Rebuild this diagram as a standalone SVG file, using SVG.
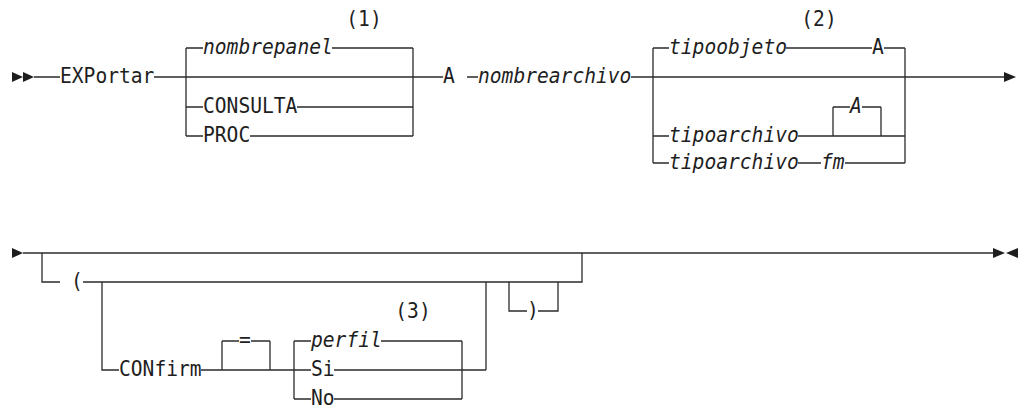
<svg xmlns="http://www.w3.org/2000/svg" width="1019" height="406" viewBox="0 0 1019 406">
<style>
.t{font-family:"DejaVu Sans Mono","Liberation Mono",monospace;font-size:22px;fill:#1e1e1e}
.i{font-style:italic}
.l{font-family:"DejaVu Sans Mono","Liberation Mono",monospace;font-size:22px;fill:#1e1e1e;text-anchor:middle}
.c{fill:none;stroke:#2b2b2b;stroke-width:1.3}
.a{fill:#1e1e1e}
</style>
<rect width="1019" height="406" fill="#fff"/>
<g id="connectors" class="c">
<path d="M34 77H60M154 77H443M467 77H478M631 77H1004"/>
<path d="M186 48V136M413 48V136M186 48H203M332 48H413M186 107H203M297 107H413M186 136H203M250 136H413"/>
<path d="M653 48V163M905 48V163M653 48H669M786 48H872M884 48H905M653 136H669M798 136H905M833 107V136M881 107V136M833 107H850M862 107H881M653 163H669M798 163H821M845 163H905"/>
<path d="M23 253H993"/>
<path d="M42 253V282H60M83 282H582V253"/>
<path d="M102 282V370H119M201 370H294M222 341V370M270 341V370M222 341H239M251 341H270"/>
<path d="M294 341V399M462 341V399M294 341H311M381 341H462M294 370H311M334 370H486M294 399H311M334 399H462M486 282V370"/>
<path d="M509 282V311H527M538 311H558V282"/>
</g>
<g id="start1"><path class="a" d="M12 72L23 77L12 82ZM23 72L34 77L23 82Z"/></g>
<g id="cont1"><path class="a" d="M1004 72L1016 77L1004 82Z"/></g>
<g id="cont2"><path class="a" d="M12 248L23 253L12 258Z"/></g>
<g id="end"><path class="a" d="M993 248L1005 253L993 258ZM1018 248L1006 253L1018 258Z"/></g>
<g id="n-exportar"><text class="t" x="60" y="83" textLength="94.4" lengthAdjust="spacingAndGlyphs">EXPortar</text></g>
<g id="n-nombrepanel"><text class="t i" x="203" y="54" textLength="129.8" lengthAdjust="spacingAndGlyphs">nombrepanel</text></g>
<g id="n-consulta"><text class="t" x="203" y="113" textLength="94.4" lengthAdjust="spacingAndGlyphs">CONSULTA</text></g>
<g id="n-proc"><text class="t" x="203" y="142" textLength="47.2" lengthAdjust="spacingAndGlyphs">PROC</text></g>
<g id="note1"><text class="l" x="364" y="26" textLength="35.4" lengthAdjust="spacingAndGlyphs">(1)</text></g>
<g id="n-a1"><text class="t" x="443" y="83" textLength="11.8" lengthAdjust="spacingAndGlyphs">A</text></g>
<g id="n-nombrearchivo"><text class="t i" x="478" y="83" textLength="153.4" lengthAdjust="spacingAndGlyphs">nombrearchivo</text></g>
<g id="note2"><text class="l" x="819" y="26" textLength="35.4" lengthAdjust="spacingAndGlyphs">(2)</text></g>
<g id="n-tipoobjeto"><text class="t i" x="669" y="54" textLength="118" lengthAdjust="spacingAndGlyphs">tipoobjeto</text></g>
<g id="n-a2"><text class="t" x="872" y="54" textLength="11.8" lengthAdjust="spacingAndGlyphs">A</text></g>
<g id="n-a3"><text class="t i" x="850" y="113" textLength="11.8" lengthAdjust="spacingAndGlyphs">A</text></g>
<g id="n-tipoarchivo1"><text class="t i" x="669" y="142" textLength="129.8" lengthAdjust="spacingAndGlyphs">tipoarchivo</text></g>
<g id="n-tipoarchivo2"><text class="t i" x="669" y="169" textLength="129.8" lengthAdjust="spacingAndGlyphs">tipoarchivo</text></g>
<g id="n-fm"><text class="t i" x="821" y="169" textLength="23.6" lengthAdjust="spacingAndGlyphs">fm</text></g>
<g id="n-lparen"><text class="t" x="71" y="288" textLength="11.8" lengthAdjust="spacingAndGlyphs">(</text></g>
<g id="n-confirm"><text class="t" x="119" y="376" textLength="82.6" lengthAdjust="spacingAndGlyphs">CONfirm</text></g>
<g id="n-eq"><text class="t" x="239" y="347" textLength="11.8" lengthAdjust="spacingAndGlyphs">=</text></g>
<g id="note3"><text class="l" x="413" y="318" textLength="35.4" lengthAdjust="spacingAndGlyphs">(3)</text></g>
<g id="n-perfil"><text class="t i" x="311" y="347" textLength="70.8" lengthAdjust="spacingAndGlyphs">perfil</text></g>
<g id="n-si"><text class="t" x="311" y="376" textLength="23.6" lengthAdjust="spacingAndGlyphs">Si</text></g>
<g id="n-no"><text class="t" x="311" y="405" textLength="23.6" lengthAdjust="spacingAndGlyphs">No</text></g>
<g id="n-rparen"><text class="t" x="527" y="317" textLength="11.8" lengthAdjust="spacingAndGlyphs">)</text></g>
</svg>
